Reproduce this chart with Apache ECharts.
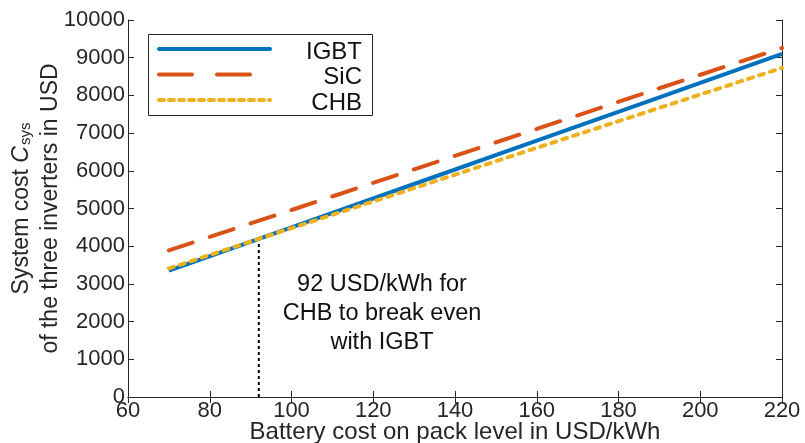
<!DOCTYPE html>
<html>
<head>
<meta charset="utf-8">
<script src="https://cdn.jsdelivr.net/npm/echarts@6/dist/echarts.min.js"></script>
<style>
  html, body { margin: 0; padding: 0; background: #fff; }
  #chart { width: 805px; height: 443px; }
</style>
</head>
<body>
<div id="chart"></div>
<script>
// battery cost on pack level (USD/kWh)
const batteryCost = [70, 100, 130, 160, 190, 220];
// system cost of the three inverters (USD)
const igbtCost = [3350, 4500, 5650, 6800, 7950, 9100];
const sicCost = [3890, 4960, 6040, 7110, 8190, 9260];
const chbCost = [3410, 4480, 5540, 6610, 7670, 8730];
// break-even point CHB vs IGBT
const breakEven = [[92, 0], [92, 4190]];

const seriesNames = ['IGBT', 'SiC', 'CHB'];
const seriesColors = ['#0072BD', '#D95319', '#EDB120'];
const plotDash = [null, [25, 18], [5, 6.5]];
const legendDash = [null, [33, 25], [5, 5]];

const FONT = 'Liberation Sans, Arial, sans-serif';
const TXT = '#262626';

const chart = echarts.init(document.getElementById('chart'), null, { renderer: 'canvas' });

const pairs = (ys) => batteryCost.map((x, i) => [x, ys[i]]);

const axisLineStyle = { show: true, lineStyle: { color: '#262626', width: 1 } };
const tick = { show: true, inside: true, length: 6, lineStyle: { color: '#262626' } };

// legend box drawn by hand (matlab style: sample on left, label right aligned)
const legendItems = [];
legendItems.push({
  type: 'rect', left: 148, top: 34,
  shape: { width: 224, height: 81 },
  style: { fill: '#fff', stroke: '#262626', lineWidth: 1 }, z: 10
});
seriesNames.forEach((name, i) => {
  const y = 49 + i * 25.5;
  legendItems.push({
    type: 'line', shape: { x1: 159, y1: y, x2: 270, y2: y },
    style: { stroke: seriesColors[i], lineWidth: 4, lineDash: legendDash[i], lineCap: 'round' },
    z: 11
  });
  legendItems.push({
    type: 'text', x: 362, y: y + 3,
    style: { text: name, fontSize: 24, fontFamily: FONT, fill: '#111', align: 'right', verticalAlign: 'middle' },
    z: 11
  });
});

const option = {
  animation: false,
  textStyle: { fontFamily: FONT },
  grid: { left: 128, right: 23, top: 20, bottom: 46, containLabel: false, outerBoundsMode: 'none' },
  xAxis: [
    {
      type: 'value', min: 60, max: 220, interval: 20,
      name: 'Battery cost on pack level in USD/kWh',
      nameLocation: 'middle', nameGap: 23, nameMoveOverlap: false,
      nameTextStyle: { fontSize: 24, color: TXT, fontFamily: FONT },
      axisLine: axisLineStyle, axisTick: tick,
      axisLabel: { fontSize: 22, color: TXT, margin: 3, fontFamily: FONT, formatter: (v) => String(v) },
      splitLine: { show: false }
    },
    {
      type: 'value', position: 'top', min: 60, max: 220, interval: 20,
      axisLine: axisLineStyle, axisTick: tick,
      axisLabel: { show: false }, splitLine: { show: false }
    }
  ],
  yAxis: [
    {
      type: 'value', min: 0, max: 10000, interval: 1000,
      name: '{a|System cost }{i|C}{s|sys}\n{a|of the three inverters in USD}',
      nameLocation: 'middle', nameGap: 63, nameRotate: 90, nameMoveOverlap: false,
      nameTextStyle: {
        color: TXT, fontFamily: FONT, lineHeight: 29,
        rich: {
          a: { fontSize: 23, color: TXT, fontFamily: FONT, lineHeight: 29 },
          i: { fontSize: 23, color: TXT, fontStyle: 'italic', fontFamily: FONT, lineHeight: 29 },
          s: { fontSize: 15, color: TXT, fontFamily: FONT, padding: [9, 0, 0, 1], lineHeight: 29 }
        }
      },
      axisLine: axisLineStyle, axisTick: tick,
      axisLabel: { fontSize: 22, color: TXT, margin: 3, fontFamily: FONT, formatter: (v) => String(v) },
      splitLine: { show: false }
    },
    {
      type: 'value', position: 'right', min: 0, max: 10000, interval: 1000,
      axisLine: axisLineStyle, axisTick: tick,
      axisLabel: { show: false }, splitLine: { show: false }
    }
  ],
  series: [
    {
      name: 'IGBT', type: 'line', data: pairs(igbtCost), showSymbol: false,
      lineStyle: { color: seriesColors[0], width: 4 }, z: 3
    },
    {
      name: 'SiC', type: 'line', data: pairs(sicCost), showSymbol: false,
      lineStyle: { color: seriesColors[1], width: 4, type: plotDash[1], cap: 'round' }, z: 2
    },
    {
      name: 'CHB', type: 'line', data: pairs(chbCost), showSymbol: false,
      lineStyle: { color: seriesColors[2], width: 4, type: plotDash[2], cap: 'round' }, z: 4
    },
    {
      name: 'breakeven', type: 'line', data: breakEven, showSymbol: false,
      lineStyle: { color: '#000', width: 2, type: [3, 3] }, z: 1,
      silent: true
    }
  ],
  graphic: legendItems.concat([
    {
      type: 'text', x: 382, y: 270,
      style: {
        text: '92 USD/kWh for\nCHB to break even\nwith IGBT',
        fontSize: 23.5, fontFamily: FONT, fill: '#111',
        align: 'center', lineHeight: 29
      }
    }
  ])
};

chart.setOption(option);
</script>
</body>
</html>
